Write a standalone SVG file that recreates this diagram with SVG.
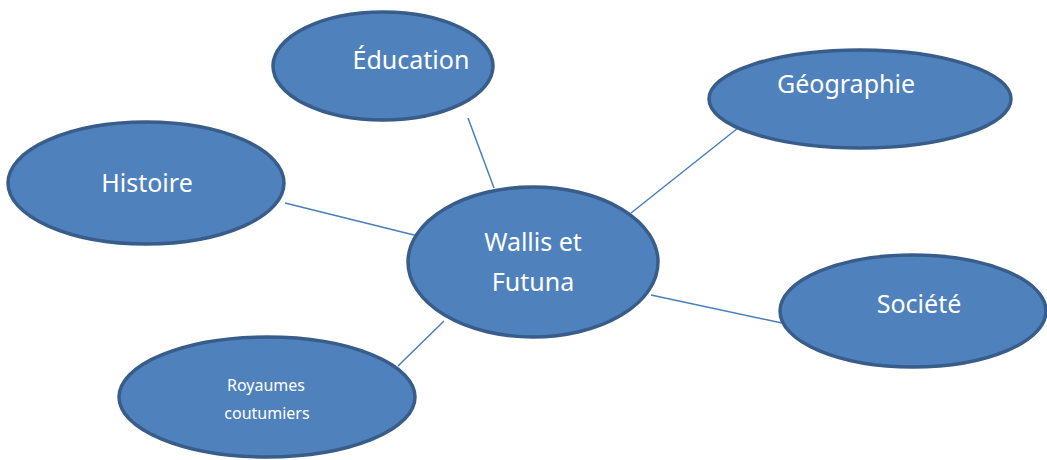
<svg xmlns="http://www.w3.org/2000/svg" width="1047" height="460" viewBox="0 0 1047 460">
<style>
.n{fill:#4F81BD;stroke:#385D8A;stroke-width:3.5}
.t{fill:#FFFFFF;font-family:"Noto Sans","Open Sans",sans-serif;text-anchor:middle}
.c{stroke:#4A7EBB;stroke-width:1.5;fill:none}
</style>
<rect width="1047" height="460" fill="#FFFFFF"/>
<g id="connectors">
<line class="c" x1="468" y1="118" x2="494" y2="188"/>
<line class="c" x1="738" y1="128" x2="631" y2="213"/>
<line class="c" x1="285" y1="203" x2="418" y2="236"/>
<line class="c" x1="651" y1="295" x2="782" y2="323"/>
<line class="c" x1="444" y1="321" x2="398" y2="366"/>
</g>
<g id="education">
<ellipse class="n" cx="383" cy="66" rx="110" ry="54"/>
<text class="t" x="411" y="69" font-size="25">Éducation</text>
</g>
<g id="geographie">
<ellipse class="n" cx="860" cy="99" rx="151" ry="49"/>
<text class="t" x="846" y="93" font-size="25">Géographie</text>
</g>
<g id="histoire">
<ellipse class="n" cx="146" cy="183" rx="138" ry="61"/>
<text class="t" x="147" y="192" font-size="25">Histoire</text>
</g>
<g id="societe">
<ellipse class="n" cx="913" cy="311" rx="133" ry="56"/>
<text class="t" x="919" y="313" font-size="25">Société</text>
</g>
<g id="royaumes">
<ellipse class="n" cx="267" cy="397" rx="148" ry="60"/>
<text class="t" x="266" y="391" font-size="16">Royaumes</text>
<text class="t" x="267" y="419" font-size="16">coutumiers</text>
</g>
<g id="wallis">
<ellipse class="n" cx="533" cy="262" rx="125" ry="75"/>
<text class="t" x="533" y="251" font-size="25">Wallis et</text>
<text class="t" x="533" y="291" font-size="25">Futuna</text>
</g>
</svg>
